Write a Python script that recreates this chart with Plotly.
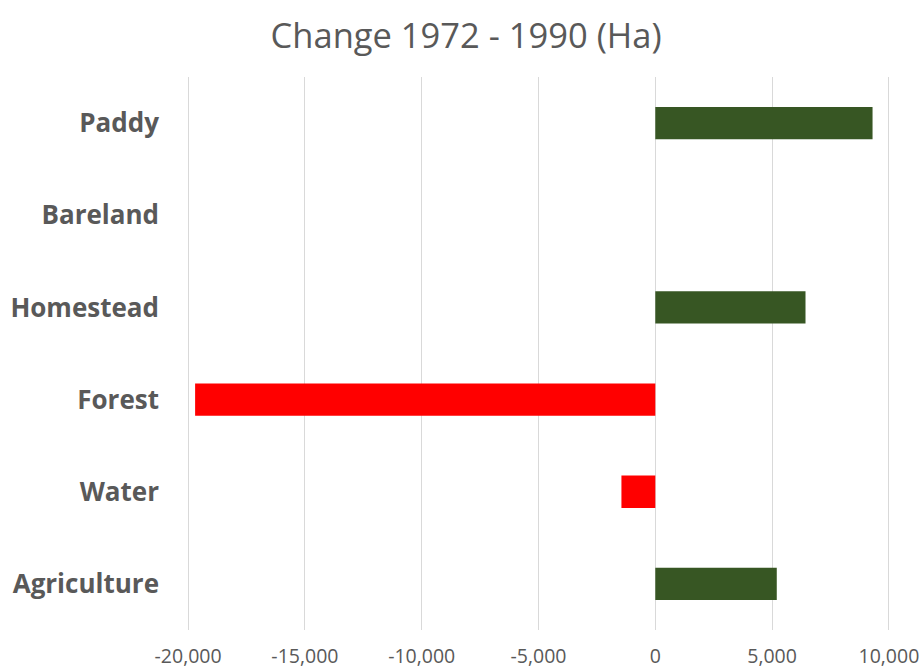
import plotly.graph_objects as go

categories = ["Agriculture", "Water", "Forest", "Homestead", "Bareland", "Paddy"]
change_ha = [5200, -1450, -19700, 6430, 0, 9300]
x_tick_values = [-20000, -15000, -10000, -5000, 0, 5000, 10000]
x_tick_labels = ["-20,000", "-15,000", "-10,000", "-5,000", "0", "5,000", "10,000"]

GREEN = "#375623"
RED = "#FF0000"
colors = [RED if v < 0 else GREEN for v in change_ha]

fig = go.Figure(
    go.Bar(
        x=change_ha,
        y=categories,
        orientation="h",
        marker=dict(color=colors, line=dict(width=0)),
        hoverinfo="x+y",
    )
)

fig.update_layout(
    width=923,
    height=669,
    margin=dict(l=186, r=32, t=77, b=39, autoexpand=False),
    paper_bgcolor="white",
    plot_bgcolor="white",
    bargap=0.65,
    showlegend=False,
    title=dict(
        text="Change 1972 - 1990 (Ha)",
        x=0.505,
        xanchor="center",
        y=0.946,
        yanchor="middle",
        font=dict(family="Open Sans, sans-serif", size=34.5, color="#595959"),
    ),
    xaxis=dict(
        range=[-20090, 10090],
        tickvals=x_tick_values,
        ticktext=x_tick_labels,
        showgrid=True,
        gridcolor="#D9D9D9",
        gridwidth=1,
        zeroline=False,
        showline=False,
        ticks="",
        automargin=False,
        ticklabelstandoff=12,
        tickfont=dict(family="Open Sans, sans-serif", size=19.5, color="#595959"),
    ),
    yaxis=dict(
        categoryorder="array",
        categoryarray=categories,
        showgrid=False,
        zeroline=False,
        showline=False,
        ticks="",
        automargin=False,
        ticklabelstandoff=26,
        tickfont=dict(family="Open Sans, sans-serif", size=26, color="#595959", weight="bold"),
    ),
)

fig.write_html("out.html")
